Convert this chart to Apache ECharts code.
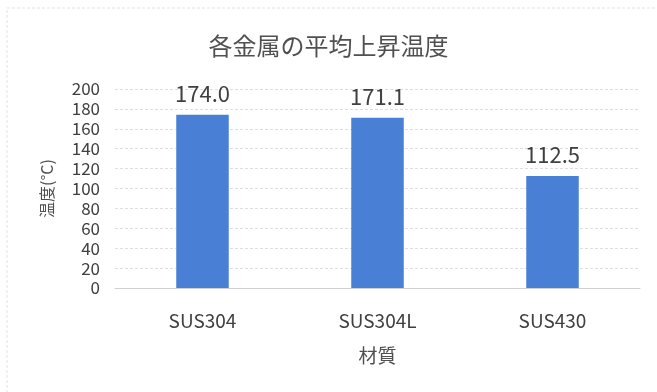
<!DOCTYPE html>
<html>
<head>
<meta charset="utf-8">
<script src="https://cdn.jsdelivr.net/npm/echarts@6/dist/echarts.min.js"></script>
<style>
html,body{margin:0;padding:0;background:#fff;}
#chart{width:657px;height:392px;}
</style>
</head>
<body>
<div id="chart"></div>
<script>
// Average temperature rise per metal
const categories = ['SUS304', 'SUS304L', 'SUS430'];
const riseValues = [174.0, 171.1, 112.5];
const yTicks = [0, 20, 40, 60, 80, 100, 120, 140, 160, 180, 200];

const font = '"Noto Sans CJK JP", "Noto Sans", sans-serif';
const chart = echarts.init(document.getElementById('chart'));
chart.setOption({
  backgroundColor: '#ffffff',
  textStyle: { fontFamily: font },
  graphic: [{
    type: 'rect',
    shape: { x: 7, y: 8, width: 660, height: 400 },
    style: { fill: 'none', stroke: '#e2e2e2', lineWidth: 1, lineDash: [3, 2] },
    silent: true
  }],
  title: {
    text: '各金属の平均上昇温度',
    left: 'center',
    top: 29,
    textStyle: { fontFamily: font, fontSize: 24, fontWeight: 'normal', color: '#505050' }
  },
  grid: { left: 115, right: 17, top: 89, bottom: 104 },
  xAxis: {
    type: 'category',
    data: categories,
    name: '材質',
    nameLocation: 'middle',
    nameGap: 58,
    nameTextStyle: { fontFamily: font, fontSize: 19, color: '#505050' },
    axisLine: { lineStyle: { color: '#d0d0d0' } },
    axisTick: { show: false },
    axisLabel: { fontFamily: font, fontSize: 19, color: '#404040', margin: 23 },
    splitLine: { show: false }
  },
  yAxis: {
    type: 'value',
    min: yTicks[0],
    max: yTicks[yTicks.length - 1],
    interval: 20,
    name: '温度(°C)',
    nameLocation: 'middle',
    nameGap: 60,
    nameTextStyle: { fontFamily: font, fontSize: 16, color: '#505050' },
    axisLine: { show: false },
    axisTick: { show: false },
    axisLabel: { fontFamily: font, fontSize: 17, color: '#404040', margin: 15 },
    splitLine: { lineStyle: { color: '#dedede', type: [3, 2] } }
  },
  series: [{
    type: 'bar',
    data: riseValues,
    barWidth: '30%',
    itemStyle: { color: '#4a7fd6' },
    label: {
      show: true,
      position: 'top',
      distance: 10,
      formatter: p => p.value.toFixed(1),
      fontFamily: font,
      fontSize: 22,
      color: '#404040'
    }
  }]
});
</script>
</body>
</html>
